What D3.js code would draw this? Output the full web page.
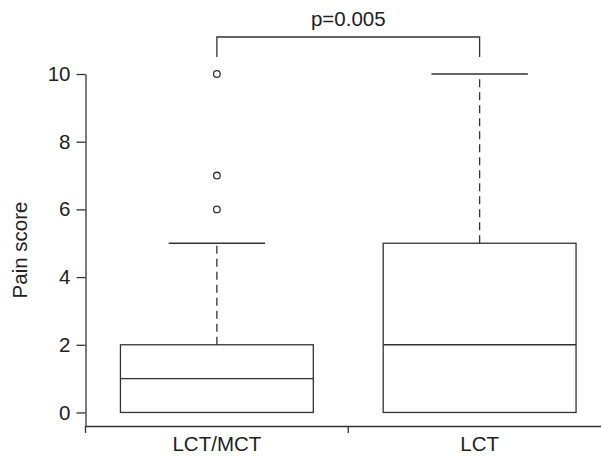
<!DOCTYPE html>
<html>
<head>
<meta charset="utf-8">
<script src="https://cdn.jsdelivr.net/npm/d3@7"></script>
<style>
  body { margin: 0; background: #fff; }
  text { font-family: "Liberation Sans", Arial, sans-serif; fill: #222; }
</style>
</head>
<body>
<svg id="chart" width="601" height="460"></svg>
<script>
var groups = ["LCT/MCT", "LCT"];
var lower = [0, 0];
var q1 = [0, 0];
var median = [1, 2];
var q3 = [2, 5];
var upper = [5, 10];
var outliers = [[6, 7, 10], []];
var yTicks = [0, 2, 4, 6, 8, 10];
var pLabel = "p=0.005";

var svg = d3.select("#chart");
var ink = "#333";
var fs = "20.5px";

var x = d3.scaleBand()
    .domain(groups)
    .range([85.5, 611])
    .padding(0);

var y = d3.scaleLinear()
    .domain([-0.4, 10])
    .range([426, 74]);

var boxW = x.bandwidth() * 0.734;

// y axis
var yAxis = svg.append("g")
    .attr("transform", "translate(85.5,0)")
    .call(d3.axisLeft(y).tickValues(yTicks).tickSize(9).tickPadding(6).tickSizeOuter(0));
yAxis.selectAll("path, line").attr("stroke", ink).attr("stroke-width", 1.3);
yAxis.selectAll("text").style("font-size", fs).attr("fill", "#222");

// x axis
var xAxis = svg.append("g")
    .attr("transform", "translate(0,426)")
    .call(d3.axisBottom(x).tickSize(0).tickPadding(10).tickSizeOuter(0));
xAxis.selectAll("path").attr("stroke", ink).attr("stroke-width", 1.3);
xAxis.selectAll("text").style("font-size", fs).attr("fill", "#222");
xAxis.selectAll(".bound")
    .data(groups)
    .enter().append("line")
    .attr("class", "bound")
    .attr("x1", function(d) { return x(d); })
    .attr("x2", function(d) { return x(d); })
    .attr("y1", 0)
    .attr("y2", 7)
    .attr("stroke", ink)
    .attr("stroke-width", 1.3);

// boxes
var box = svg.selectAll(".box")
    .data(groups)
    .enter().append("g")
    .attr("class", "box");

box.append("line")
    .attr("x1", function(d) { return x(d) + x.bandwidth() / 2; })
    .attr("x2", function(d) { return x(d) + x.bandwidth() / 2; })
    .attr("y1", function(d, i) { return y(q3[i]); })
    .attr("y2", function(d, i) { return y(upper[i]); })
    .attr("stroke", ink)
    .attr("stroke-width", 1.3)
    .attr("stroke-dasharray", "8,5");

box.append("line")
    .attr("x1", function(d) { return x(d) + x.bandwidth() / 2 - boxW / 4; })
    .attr("x2", function(d) { return x(d) + x.bandwidth() / 2 + boxW / 4; })
    .attr("y1", function(d, i) { return y(upper[i]); })
    .attr("y2", function(d, i) { return y(upper[i]); })
    .attr("stroke", ink)
    .attr("stroke-width", 1.3);

box.append("rect")
    .attr("x", function(d) { return x(d) + (x.bandwidth() - boxW) / 2; })
    .attr("width", boxW)
    .attr("y", function(d, i) { return y(q3[i]); })
    .attr("height", function(d, i) { return y(q1[i]) - y(q3[i]); })
    .attr("fill", "none")
    .attr("stroke", ink)
    .attr("stroke-width", 1.3);

box.append("line")
    .attr("x1", function(d) { return x(d) + (x.bandwidth() - boxW) / 2; })
    .attr("x2", function(d) { return x(d) + (x.bandwidth() + boxW) / 2; })
    .attr("y1", function(d, i) { return y(median[i]); })
    .attr("y2", function(d, i) { return y(median[i]); })
    .attr("stroke", ink)
    .attr("stroke-width", 1.3);

box.each(function(d, i) {
  d3.select(this).selectAll("circle")
    .data(outliers[i])
    .enter().append("circle")
    .attr("cx", x(d) + x.bandwidth() / 2)
    .attr("cy", function(v) { return y(v); })
    .attr("r", 3.3)
    .attr("fill", "none")
    .attr("stroke", ink)
    .attr("stroke-width", 1.3);
});

// significance bracket
var bx1 = x(groups[0]) + x.bandwidth() / 2;
var bx2 = x(groups[1]) + x.bandwidth() / 2;
svg.append("path")
    .attr("d", "M" + bx1 + ",57V37H" + bx2 + "V57")
    .attr("fill", "none")
    .attr("stroke", ink)
    .attr("stroke-width", 1.3);
svg.append("text")
    .attr("x", (bx1 + bx2) / 2)
    .attr("y", 26)
    .attr("text-anchor", "middle")
    .style("font-size", fs)
    .text(pLabel);

// y label
svg.append("text")
    .attr("transform", "translate(27,250) rotate(-90)")
    .attr("text-anchor", "middle")
    .style("font-size", fs)
    .text("Pain score");
</script>
</body>
</html>
